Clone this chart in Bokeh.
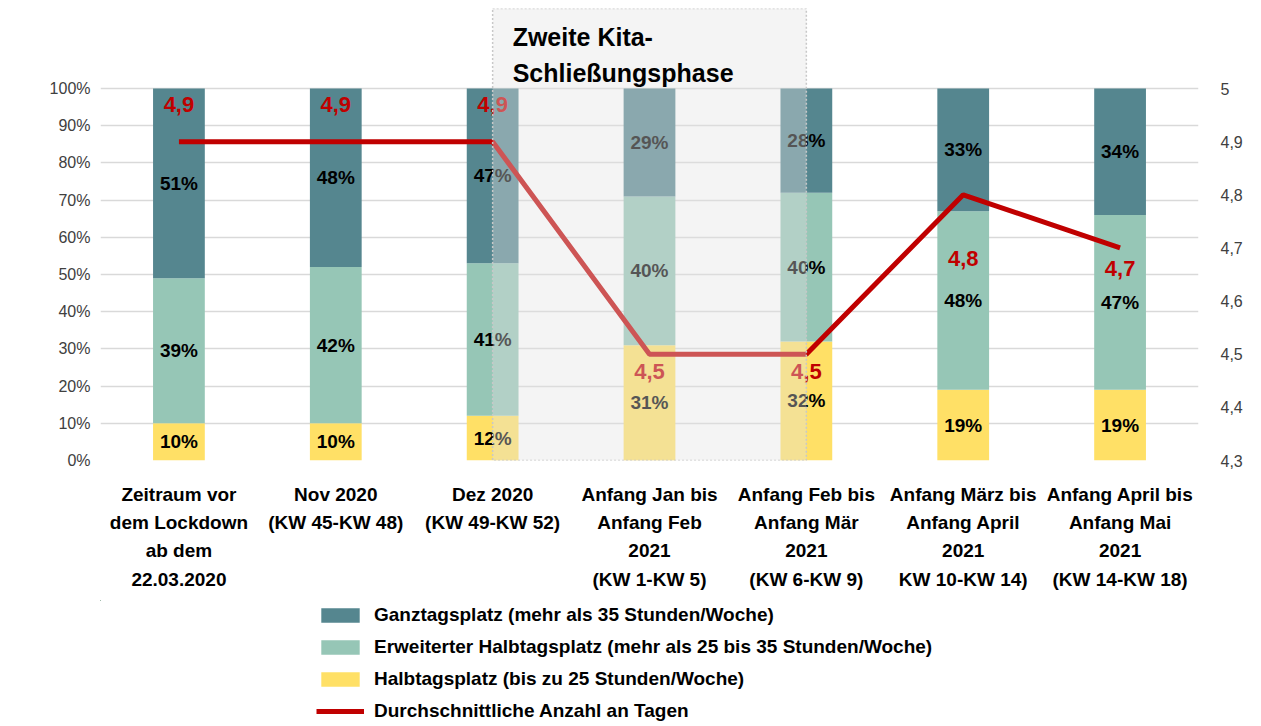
from bokeh.plotting import figure
from bokeh.layouts import column
from bokeh.models import (Range1d, LinearAxis, FixedTicker, PrintfTickFormatter,
                          CustomJSTickFormatter, Legend, LegendItem, ColumnDataSource)
from bokeh.core.properties import value
from bokeh.embed import file_html
from bokeh.resources import INLINE

# ---------------- data ----------------
categories = [
    "Zeitraum vor\ndem Lockdown\nab dem\n22.03.2020",
    "Nov 2020\n(KW 45-KW 48)",
    "Dez 2020\n(KW 49-KW 52)",
    "Anfang Jan bis\nAnfang Feb\n2021\n(KW 1-KW 5)",
    "Anfang Feb bis\nAnfang Mär\n2021\n(KW 6-KW 9)",
    "Anfang März bis\nAnfang April\n2021\nKW 10-KW 14)",
    "Anfang April bis\nAnfang Mai\n2021\n(KW 14-KW 18)",
]
halbtag = [10, 10, 12, 31, 32, 19, 19]
erweitert = [39, 42, 41, 40, 40, 48, 47]
ganztag = [51, 48, 47, 29, 28, 33, 34]
tage = [4.9, 4.9, 4.9, 4.5, 4.5, 4.8, 4.7]

series_names = [
    "Halbtagsplatz (bis zu 25 Stunden/Woche)",
    "Erweiterter Halbtagsplatz (mehr als 25 bis 35 Stunden/Woche)",
    "Ganztagsplatz (mehr als 35 Stunden/Woche)",
]
line_name = "Durchschnittliche Anzahl an Tagen"
phase_label = "Zweite Kita-\nSchließungsphase"
phase_start, phase_end = 2, 4   # category indices spanned by the shaded phase

left_ticks = list(range(0, 101, 10))
right_ticks = [4.3, 4.4, 4.5, 4.6, 4.7, 4.8, 4.9, 5.0]

# ---------------- styles ----------------
FONT = "Liberation Sans"
colors = ["#FFE066", "#96C6B6", "#55868F"]
RED = "#C00000"
label_dy = [-37, -37, -37, 17, 17, 64, 21]   # screen offsets of the day labels
FRAME_H = 452
Y_TOP = 100 * FRAME_H / 372
R_LO, R_HI = right_ticks[0], right_ticks[-1]
R_TOP = R_LO + (R_HI - R_LO) * Y_TOP / 100

x = list(range(len(categories)))
src = ColumnDataSource(dict(x=x, h=halbtag, e=erweitert, g=ganztag, t=tage))

p = figure(width=1245, height=600, output_backend="svg",
           toolbar_location=None,
           x_range=Range1d(-0.5, len(categories) - 0.5), y_range=Range1d(0, Y_TOP),
           min_border_left=100, min_border_right=39, min_border_top=8,
           min_border_bottom=140, y_axis_location=None)
p.extra_y_ranges = {"tage": Range1d(R_LO, R_TOP)}
p.outline_line_color = None
p.background_fill_color = "white"
p.border_fill_color = "white"

# left axis
lax = LinearAxis(ticker=FixedTicker(ticks=left_ticks),
                 formatter=PrintfTickFormatter(format="%d%%"))
lax.axis_line_color = None
lax.major_tick_line_color = None
lax.minor_tick_line_color = None
lax.major_label_standoff = 4
lax.major_label_text_font = FONT
lax.major_label_text_font_size = "16px"
lax.major_label_text_color = "#404040"
p.add_layout(lax, "left")

# right axis
rax = LinearAxis(y_range_name="tage", ticker=FixedTicker(ticks=right_ticks),
                 formatter=CustomJSTickFormatter(code="""
                     const s = tick.toFixed(1);
                     return s.endsWith('.0') ? s.slice(0, -2) : s.replace('.', ',');
                 """))
rax.axis_line_color = None
rax.major_tick_line_color = None
rax.minor_tick_line_color = None
rax.major_label_standoff = 16
rax.major_label_text_font = FONT
rax.major_label_text_font_size = "16px"
rax.major_label_text_color = "#404040"
p.add_layout(rax, "right")

# bottom axis
p.xaxis.ticker = FixedTicker(ticks=x)
p.xaxis.major_label_overrides = {i: c for i, c in enumerate(categories)}
p.xaxis.axis_line_color = None
p.xaxis.major_tick_line_color = None
p.xaxis.minor_tick_line_color = None
p.xaxis.major_label_standoff = 17
p.xaxis.major_label_text_font = FONT
p.xaxis.major_label_text_font_size = "19px"
p.xaxis.major_label_text_font_style = "bold"
p.xaxis.major_label_text_color = "black"
p.xaxis.major_label_text_line_height = 1.35

p.xgrid.grid_line_color = None
p.ygrid.ticker = FixedTicker(ticks=left_ticks)
p.ygrid.grid_line_color = "#d9d9d9"
p.ygrid.grid_line_width = 1.5

# stacked bars
bars = p.vbar_stack(["h", "e", "g"], x="x", width=0.33, color=colors,
                    line_color=None, source=src)

# percentage labels
lx, ly, lt = [], [], []
for i in x:
    base = 0
    for vals in (halbtag, erweitert, ganztag):
        v = vals[i]
        lx.append(i)
        ly.append(base + v / 2)
        lt.append(f"{v}%")
        base += v
p.text(x=lx, y=ly, text=lt, text_align="center", text_baseline="middle",
       text_font=value(FONT), text_font_size="19px", text_font_style="bold",
       text_color="black")

# line
ln = p.line("x", "t", source=src, y_range_name="tage", line_color=RED, line_width=5)
p.text(x=x, y=tage, y_range_name="tage",
       text=[f"{v:.1f}".replace(".", ",") for v in tage], y_offset=label_dy,
       text_align="center", text_baseline="middle", text_font=value(FONT),
       text_font_size="22px", text_font_style="bold", text_color=RED)

# shaded phase overlay
p.quad(left=[phase_start], right=[phase_end], bottom=[0], top=[Y_TOP],
       fill_color="#e2e2e2", fill_alpha=0.376, line_color="#c8c8c8",
       line_dash="2 2", line_width=1.5)
p.text(x=[phase_start], y=[Y_TOP], text=[phase_label], x_offset=20, y_offset=14,
       text_align="left", text_baseline="top", text_font=value(FONT),
       text_font_size="25px", text_font_style="bold", text_color="black",
       text_line_height=1.3)

# ---------------- legend (separate strip below the chart) ----------------
# same renderers again, kept outside the strip's visible ranges, only as legend keys
pl = figure(width=1245, height=122, output_backend="svg", toolbar_location=None,
            x_range=Range1d(100, 107), y_range=Range1d(-20, -10),
            min_border_left=0, min_border_right=0, min_border_top=0,
            min_border_bottom=0, x_axis_location=None, y_axis_location=None)
pl.outline_line_color = None
pl.grid.visible = False
keys = pl.vbar_stack(["h", "e", "g"], x="x", width=0.33, color=colors,
                     line_color=None, source=src)
lkey = pl.line("x", "t", source=src, line_color=RED, line_width=5)

items = [LegendItem(label=series_names[2], renderers=[keys[2]]),
         LegendItem(label=series_names[1], renderers=[keys[1]]),
         LegendItem(label=series_names[0], renderers=[keys[0]]),
         LegendItem(label=line_name, renderers=[lkey])]
legend = Legend(items=items, location=(216, 0), orientation="vertical")
legend.border_line_color = None
legend.background_fill_alpha = 0
legend.margin = 0
legend.padding = 0
legend.spacing = 10
legend.glyph_width = 48
legend.glyph_height = 18
legend.label_height = 20
legend.label_standoff = 10
legend.label_text_font = FONT
legend.label_text_font_size = "19px"
legend.label_text_font_style = "bold"
legend.label_text_color = "black"
pl.add_layout(legend, "center")

layout = column(p, pl, spacing=0)
open("out.html", "w").write(file_html(layout, INLINE))
